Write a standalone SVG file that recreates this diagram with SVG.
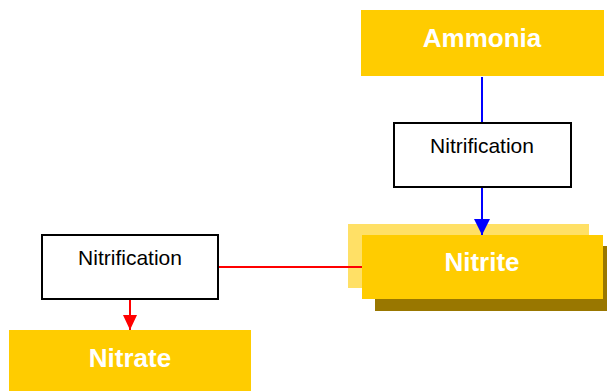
<svg xmlns="http://www.w3.org/2000/svg" width="607" height="391" viewBox="0 0 607 391">
<style>
.big{fill:#FFCC00}
.bt{font-family:"Liberation Sans",Arial,sans-serif;font-size:26px;font-weight:bold;fill:#fff;text-anchor:middle}
.proc{fill:#fff;stroke:#000;stroke-width:2}
.pt{font-family:"Liberation Sans",Arial,sans-serif;font-size:21px;fill:#000;text-anchor:middle}
</style>
<defs>
<marker id="ab" markerUnits="userSpaceOnUse" markerWidth="16" markerHeight="17" refX="16" refY="8" orient="auto"><path d="M0,0L16,8L0,16Z" fill="#0000FF"/></marker>
<marker id="ar" markerUnits="userSpaceOnUse" markerWidth="16" markerHeight="15" refX="15" refY="7" orient="auto"><path d="M0,0L15,7L0,14Z" fill="#FF0000"/></marker>
</defs>
<rect width="607" height="391" fill="#fff"/>
<g id="ammonia">
<rect class="big" x="361" y="10" width="243" height="66"/>
<text class="bt" x="482" y="47">Ammonia</text>
</g>
<g id="nitrification1">
<rect class="proc" x="394" y="123" width="177" height="64"/>
<text class="pt" x="482" y="153">Nitrification</text>
</g>
<g id="nitrite">
<rect x="348" y="224" width="241" height="64" fill="#FFE066"/>
<rect x="375" y="246" width="232" height="65" fill="#997700"/>
<rect class="big" x="362" y="235" width="241" height="64"/>
<text class="bt" x="482" y="271">Nitrite</text>
</g>
<g id="nitrification2">
<rect class="proc" x="42" y="235" width="176" height="64"/>
<text class="pt" x="130" y="265">Nitrification</text>
</g>
<g id="nitrate">
<rect class="big" x="9" y="330" width="242" height="61"/>
<text class="bt" x="130" y="367">Nitrate</text>
</g>
<g id="connectors">
<line x1="482" y1="77" x2="482" y2="122" stroke="#0000FF" stroke-width="2"/>
<line x1="482" y1="188" x2="482" y2="235" stroke="#0000FF" stroke-width="2" marker-end="url(#ab)"/>
<line x1="219" y1="267" x2="362" y2="267" stroke="#FF0000" stroke-width="2"/>
<line x1="130" y1="300" x2="130" y2="330" stroke="#FF0000" stroke-width="2" marker-end="url(#ar)"/>
</g>
</svg>
